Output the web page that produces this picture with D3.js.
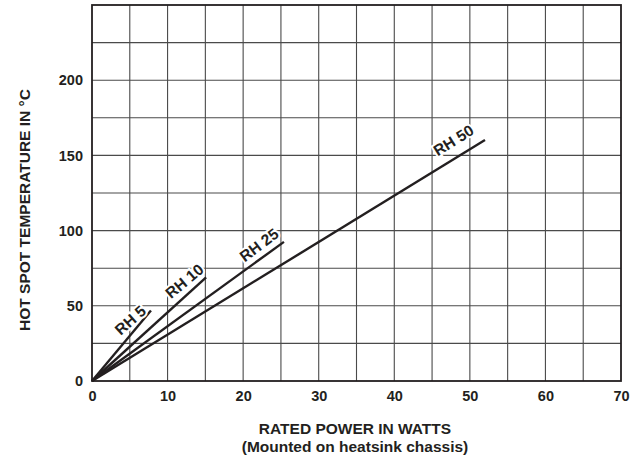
<!DOCTYPE html>
<html>
<head>
<meta charset="utf-8">
<script src="https://cdn.jsdelivr.net/npm/d3@7"></script>
<style>
  body { margin: 0; background: #fff; }
  text { font-family: "Liberation Sans", Arial, sans-serif; font-weight: bold; fill: #231f20; }
</style>
</head>
<body>
<script>
// data
var series = ["RH 5", "RH 10", "RH 25", "RH 50"];
var endWatts = [7.8, 15.1, 25.4, 52];
var endTemp = [46.9, 68.9, 92.5, 160.2];
var xTicks = [0, 10, 20, 30, 40, 50, 60, 70];
var yTicks = [0, 50, 100, 150, 200];

var svgWidth = 639, svgHeight = 456;
var margin = { top: 5, right: 18, bottom: 75, left: 92 };
var width = svgWidth - margin.left - margin.right;
var height = svgHeight - margin.top - margin.bottom;

var svg = d3.select("body").append("svg")
  .attr("width", svgWidth)
  .attr("height", svgHeight);

var chart = svg.append("g")
  .attr("transform", `translate(${margin.left}, ${margin.top})`);

var x = d3.scaleLinear().domain([0, 70]).range([0, width]);
var y = d3.scaleLinear().domain([0, 250]).range([height, 0]);

// grid
chart.append("g")
  .selectAll("line")
  .data(d3.range(5, 70, 5))
  .enter().append("line")
  .attr("x1", d => x(d)).attr("x2", d => x(d))
  .attr("y1", 0).attr("y2", height)
  .attr("stroke", "#4a4a4a").attr("stroke-width", 1.1);

chart.append("g")
  .selectAll("line")
  .data(d3.range(25, 250, 25))
  .enter().append("line")
  .attr("y1", d => y(d)).attr("y2", d => y(d))
  .attr("x1", 0).attr("x2", width)
  .attr("stroke", "#4a4a4a").attr("stroke-width", 1.1);

chart.append("rect")
  .attr("width", width).attr("height", height)
  .attr("fill", "none").attr("stroke", "#231f20").attr("stroke-width", 1.8);

// axes (tick text only)
var xAxis = d3.axisBottom(x).tickValues(xTicks).tickSize(0).tickPadding(10);
var gx = chart.append("g").attr("transform", `translate(0, ${height})`).call(xAxis);
var yAxis = d3.axisLeft(y).tickValues(yTicks).tickSize(0).tickPadding(9);
var gy = chart.append("g").call(yAxis);
[gx, gy].forEach(g => {
  g.select(".domain").remove();
  g.selectAll("text").attr("font-size", 14.5).attr("font-family", null).style("fill", "#231f20");
});

// lines
var lines = series.map((s, i) => ({ name: s, pts: [[0, 0], [endWatts[i], endTemp[i]]] }));
var line = d3.line().x(d => x(d[0])).y(d => y(d[1]));
chart.selectAll(".rh")
  .data(lines)
  .enter().append("path")
  .attr("class", "rh")
  .attr("d", d => line(d.pts))
  .attr("fill", "none")
  .attr("stroke", "#231f20")
  .attr("stroke-width", 2.4);

// labels sit just above their lines, knocked out of the grid
var labelAt = [0.65, 0.81, 0.87, 0.92];
var labelLift = [15, 16, 15, 19];
var labelAngle = [-42, -40, -37, -32];
chart.selectAll(".lbl")
  .data(lines)
  .enter().append("text")
  .attr("class", "lbl")
  .attr("font-size", 15.5)
  .attr("text-anchor", "middle")
  .attr("dy", "0.35em")
  .attr("stroke", "#fff")
  .attr("stroke-width", 4)
  .attr("paint-order", "stroke")
  .attr("transform", (d, i) => {
    var px = x(endWatts[i] * labelAt[i]);
    var py = y(endTemp[i] * labelAt[i]) - labelLift[i];
    return `translate(${px}, ${py}) rotate(${labelAngle[i]})`;
  })
  .text(d => d.name);

// axis titles
svg.append("text")
  .attr("transform", `translate(30, 210) rotate(-90)`)
  .attr("text-anchor", "middle")
  .attr("font-size", 15.5)
  .text("HOT SPOT TEMPERATURE IN °C");

svg.append("text")
  .attr("x", 355)
  .attr("y", 434)
  .attr("text-anchor", "middle")
  .attr("font-size", 15.5)
  .text("RATED POWER IN WATTS");

svg.append("text")
  .attr("x", 355)
  .attr("y", 452)
  .attr("text-anchor", "middle")
  .attr("font-size", 15.5)
  .text("(Mounted on heatsink chassis)");
</script>
</body>
</html>
